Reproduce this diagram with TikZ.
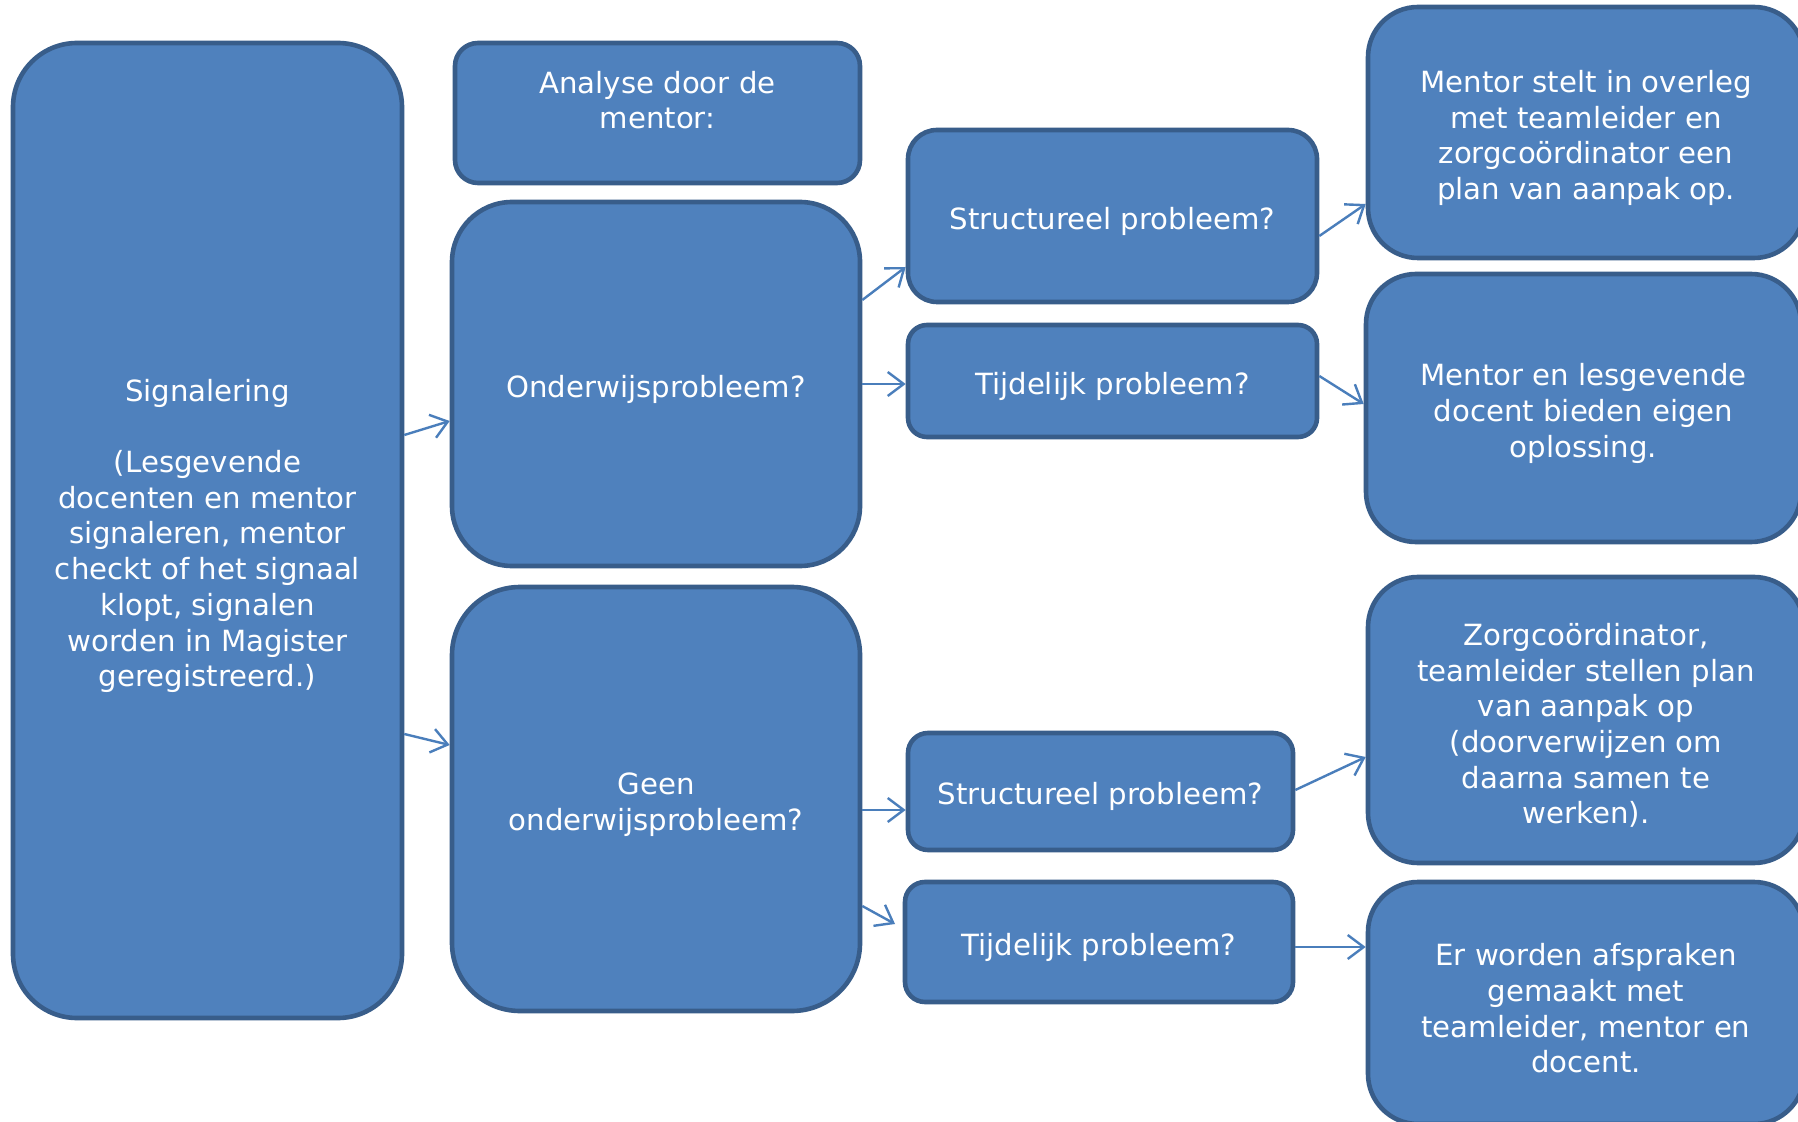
\documentclass[tikz,border=0pt]{standalone}
\usepackage{fontspec}
\setmainfont{DejaVu Sans}
\usetikzlibrary{arrows.meta}
\definecolor{boxfill}{HTML}{4F81BD}
\definecolor{boxline}{HTML}{385D8A}
\definecolor{arrowcol}{HTML}{4A7EBB}
\newcommand{\topgap}{\rule{0pt}{16.5pt}}
\tikzset{
  box/.style={draw=boxline, fill=boxfill, line width=2.3pt, text=white, align=center, inner sep=0pt,
    font=\fontsize{14.6pt}{17.85pt}\selectfont},
  boxtext/.style={text=white, align=center, inner sep=0pt, font=\fontsize{14.6pt}{17.85pt}\selectfont},
  conn/.style={draw=arrowcol, line width=1.2pt, -{Straight Barb[length=8pt,width=12pt]}}
}
\begin{document}
\begin{tikzpicture}[x=0.5pt,y=-0.5pt]
\useasboundingbox (0,0) rectangle (1798,1122);
\clip (0,0) rectangle (1798,1122);
\fill[white] (0,0) rectangle (1798,1122);
\node[box, minimum width=194.5pt, minimum height=487.5pt, rounded corners=32pt] (sig) at (207.5,530.5)
 {\topgap Signalering\\ \\(Lesgevende\\docenten en mentor\\signaleren, mentor\\checkt of het signaal\\klopt, signalen\\worden in Magister\\geregistreerd.)};
\node[box, minimum width=202.5pt, minimum height=70pt, rounded corners=11.5pt] (ana) at (657.5,113) {};
\node[boxtext] (anatext) at (657.5,100) {Analyse door de\\mentor:};
\node[box, minimum width=204pt, minimum height=182pt, rounded corners=30pt] (ond) at (656,384) {\topgap Onderwijsprobleem?};
\node[box, minimum width=204pt, minimum height=212pt, rounded corners=34pt] (geen) at (656,799) {\topgap Geen\\onderwijsprobleem?};
\node[box, minimum width=204.5pt, minimum height=86pt, rounded corners=14.5pt] (s1) at (1112.5,216) {\topgap Structureel probleem?};
\node[box, minimum width=204.5pt, minimum height=56pt, rounded corners=9.5pt] (t1) at (1112.5,381) {\topgap Tijdelijk probleem?};
\node[box, minimum width=192.5pt, minimum height=58.5pt, rounded corners=10pt] (s2) at (1100.5,791.5) {\topgap Structureel probleem?};
\node[box, minimum width=194pt, minimum height=60pt, rounded corners=10pt] (t2) at (1099,942) {\topgap Tijdelijk probleem?};
\node[box, minimum width=218pt, minimum height=125.5pt, rounded corners=25pt] (m1) at (1586,132.5)
 {\topgap Mentor stelt in overleg\\met teamleider en\\zorgcoördinator een\\plan van aanpak op.};
\node[box, minimum width=217.5pt, minimum height=134pt, rounded corners=25pt] (m2) at (1583.5,408)
 {\topgap Mentor en lesgevende\\docent bieden eigen\\oplossing.};
\node[box, minimum width=218pt, minimum height=143pt, rounded corners=25pt] (z) at (1586,720)
 {\topgap Zorgcoördinator,\\teamleider stellen plan\\van aanpak op\\(doorverwijzen om\\daarna samen te\\werken).};
\node[box, minimum width=218pt, minimum height=121pt, rounded corners=25pt] (e) at (1586,1003)
 {\topgap Er worden afspraken\\gemaakt met\\teamleider, mentor en\\docent.};
\coordinate (t2end) at (895,924);
\draw[conn] (sig.east |- 0,435) -- (ond.west |- 0,421);
\draw[conn] (sig.east |- 0,734) -- (geen.west |- 0,745);
\draw[conn] (ond.east |- 0,300) -- (s1.west |- 0,267);
\draw[conn] (ond.east |- 0,384) -- (t1.west |- 0,384);
\draw[conn] (s1.east |- 0,236) -- (m1.west |- 0,204);
\draw[conn] (t1.east |- 0,376) -- (m2.west |- 0,404);
\draw[conn] (geen.east |- 0,810) -- (s2.west |- 0,810);
\draw[conn] (geen.east |- 0,906) -- (t2end);
\draw[conn] (s2.east |- 0,790) -- (z.west |- 0,757);
\draw[conn] (t2.east |- 0,947) -- (e.west |- 0,947);
\end{tikzpicture}
\end{document}
